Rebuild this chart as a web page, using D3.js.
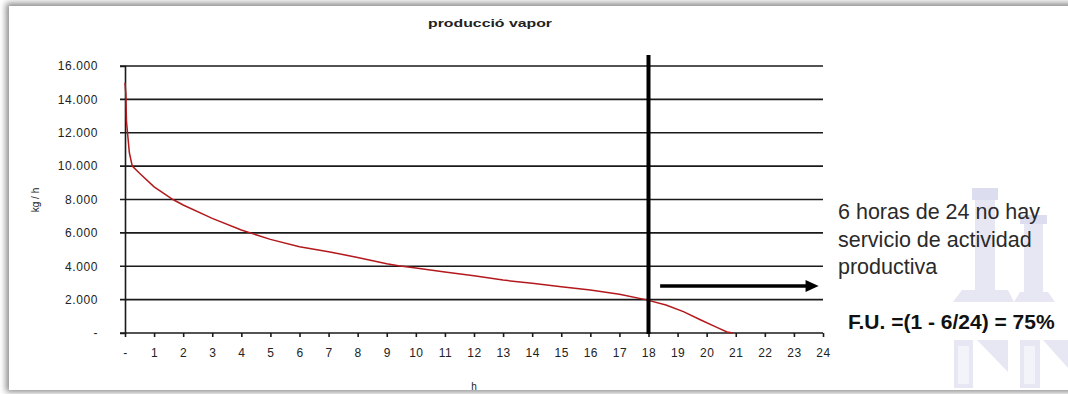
<!DOCTYPE html>
<html>
<head>
<meta charset="utf-8">
<script src="https://cdn.jsdelivr.net/npm/d3@7"></script>
<style>
  body { margin: 0; background: #fff; }
  svg { display: block; font-family: "Liberation Sans", Arial, sans-serif; }
</style>
</head>
<body>
<div id="chart"></div>
<script>
// duration curve
var hours  = [0, 0.03, 0.05, 0.15, 0.25, 0.5, 1, 1.65, 2, 3, 4, 5, 6, 7, 8, 9, 9.4, 10, 11, 12, 13, 14, 15, 16, 17, 17.9, 18.6, 19.2, 19.8, 20.35, 20.7, 20.9];
var kgPerH = [15000, 14300, 12700, 10800, 10000, 9570, 8760, 8000, 7670, 6870, 6170, 5610, 5170, 4870, 4530, 4150, 4030, 3900, 3660, 3430, 3170, 2980, 2770, 2570, 2320, 2000, 1680, 1280, 780, 340, 60, 0];

var yTicks = [0, 2000, 4000, 6000, 8000, 10000, 12000, 14000, 16000];
var xTicks = d3.range(0, 25);
var cutHour = 18;
var noteLines = ["6 horas de 24 no hay", "servicio de actividad", "productiva"];
var fuText = "F.U. =(1 - 6/24) = 75%";

var W = 1068, H = 394;
var x = d3.scaleLinear().domain([0, 24]).range([125, 823]);
var y = d3.scaleLinear().domain([0, 16000]).range([333, 66]);

var esLocale = d3.formatLocale({decimal: ",", thousands: ".", grouping: [3], currency: ["", "€"]});
var fmt = esLocale.format(",");

var svg = d3.select("#chart").append("svg")
    .attr("width", W)
    .attr("height", H);

// card with a soft shadow
var defs = svg.append("defs");
var blur = defs.append("filter").attr("id", "shadow")
    .attr("x", "-5%").attr("y", "-5%").attr("width", "110%").attr("height", "110%");
blur.append("feGaussianBlur").attr("stdDeviation", 3);

svg.append("rect").attr("width", W).attr("height", H).attr("fill", "#fff");
svg.append("rect")
    .attr("x", 6).attr("y", 3).attr("width", W + 10).attr("height", 389)
    .attr("fill", "#8a8a8a")
    .attr("filter", "url(#shadow)");
svg.append("rect")
    .attr("x", 9).attr("y", 6).attr("width", W).attr("height", 384)
    .attr("fill", "#fff");

// faint logo in the corner
var logo = svg.append("g").attr("fill", "#e6e7f3");
logo.append("rect").attr("x", 972).attr("y", 188).attr("width", 26).attr("height", 12).attr("fill", "#dcddee");
logo.append("rect").attr("x", 975).attr("y", 200).attr("width", 20).attr("height", 92);
logo.append("rect").attr("x", 1020).attr("y", 215).attr("width", 27).attr("height", 9).attr("fill", "#dcddee");
logo.append("rect").attr("x", 1024).attr("y", 224).attr("width", 19).attr("height", 68);
logo.append("polygon").attr("points", "953,302 962,290 1008,290 1014,302");
logo.append("polygon").attr("points", "1014,302 1020,292 1048,292 1055,302");
logo.append("rect").attr("x", 954).attr("y", 340).attr("width", 19).attr("height", 48);
logo.append("polygon").attr("points", "977,340 1008,340 1008,372");
logo.append("rect").attr("x", 1020).attr("y", 340).attr("width", 20).attr("height", 48);
logo.append("polygon").attr("points", "1043,340 1068,340 1068,368");
logo.selectAll("rect.in").data([[958, 346], [1024, 346]]).enter().append("rect")
    .attr("x", d => d[0]).attr("y", d => d[1]).attr("width", 11).attr("height", 38)
    .attr("fill", "#f3f4fa");

// title
svg.append("text")
    .attr("x", 490).attr("y", 27)
    .attr("text-anchor", "middle")
    .attr("font-size", 11).attr("font-weight", "bold").attr("fill", "#222")
    .attr("textLength", 124).attr("lengthAdjust", "spacingAndGlyphs")
    .text("producció vapor");

// gridlines
svg.append("g").selectAll("line").data(yTicks).enter().append("line")
    .attr("x1", 120).attr("x2", x(24))
    .attr("y1", d => y(d)).attr("y2", d => y(d))
    .attr("stroke", "#1a1a1a").attr("stroke-width", 1.6);

// y axis
var yAxis = svg.append("g")
    .attr("transform", "translate(" + x(0) + ",0)")
    .call(d3.axisLeft(y).tickValues(yTicks).tickSize(5).tickPadding(22)
        .tickFormat(d => d === 0 ? "-" : fmt(d)));
yAxis.select(".domain").attr("stroke", "#1a1a1a").attr("stroke-width", 1.6);
yAxis.selectAll(".tick line").attr("stroke", "none");
yAxis.selectAll("text")
    .attr("font-family", "Liberation Sans, Arial, sans-serif")
    .attr("font-size", 12).attr("fill", "#222").attr("letter-spacing", 0.6);

// x axis
var xAxis = svg.append("g")
    .attr("transform", "translate(0," + y(0) + ")")
    .call(d3.axisBottom(x).tickValues(xTicks).tickSize(4).tickPadding(11)
        .tickFormat(d => d === 0 ? "-" : d));
xAxis.select(".domain").attr("stroke", "none");
xAxis.selectAll(".tick line").attr("stroke", "#1a1a1a").attr("stroke-width", 1.6);
xAxis.selectAll("text")
    .attr("font-family", "Liberation Sans, Arial, sans-serif")
    .attr("font-size", 12).attr("fill", "#222").attr("letter-spacing", 0.5);

// axis titles
svg.append("text")
    .attr("transform", "translate(39,200) rotate(-90)")
    .attr("text-anchor", "middle")
    .attr("font-size", 10).attr("fill", "#222")
    .text("kg / h");
svg.append("text")
    .attr("x", 474).attr("y", 390)
    .attr("text-anchor", "middle")
    .attr("font-size", 10).attr("fill", "#222")
    .text("h");

// the curve
var line = d3.line()
    .x((d, i) => x(hours[i]))
    .y(d => y(d));
svg.append("path")
    .datum(kgPerH)
    .attr("d", line)
    .attr("fill", "none")
    .attr("stroke", "#b3191c")
    .attr("stroke-width", 1.5);

// cut-off at 18 h
svg.append("line")
    .attr("x1", x(cutHour)).attr("x2", x(cutHour))
    .attr("y1", 55).attr("y2", y(0) + 1)
    .attr("stroke", "#000").attr("stroke-width", 4);

// arrow over the idle hours
var arrowY = 286;
svg.append("line")
    .attr("x1", x(18.4)).attr("x2", x(23.6))
    .attr("y1", arrowY).attr("y2", arrowY)
    .attr("stroke", "#000").attr("stroke-width", 3.5);
svg.append("polygon")
    .attr("points", [[x(23.4), arrowY - 6], [x(23.85), arrowY], [x(23.4), arrowY + 6]].join(" "))
    .attr("fill", "#000");

// notes
svg.append("g").selectAll("text").data(noteLines).enter().append("text")
    .attr("x", 838)
    .attr("y", (d, i) => 219 + i * 27.5)
    .attr("font-size", 21.5).attr("fill", "#2a2a2a")
    .text(d => d);
svg.append("text")
    .attr("x", 848).attr("y", 329)
    .attr("font-size", 21).attr("font-weight", "bold").attr("fill", "#111")
    .text(fuText);
</script>
</body>
</html>
